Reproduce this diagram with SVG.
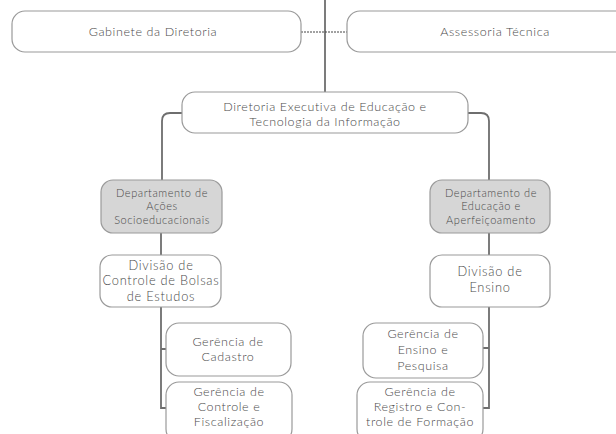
<svg xmlns="http://www.w3.org/2000/svg" width="616" height="434" viewBox="0 0 616 434">
<style>
.box{fill:#ffffff;stroke:#9a9a9a;stroke-width:1.2}
.dept{fill:#d6d6d6;stroke:#9a9a9a;stroke-width:1.2}
.ln{fill:none;stroke:#6e6e6e;stroke-width:1.8}
.dash{fill:none;stroke:#444;stroke-width:1;stroke-dasharray:2 1}
text{font-family:Lato,"Open Sans","DejaVu Sans",sans-serif;font-weight:300;fill:#4a4a4a;text-anchor:middle}
.t13{font-size:12.5px;letter-spacing:0.6px}
.t11{font-size:11px;letter-spacing:0.55px}
.t135{font-size:12.8px;letter-spacing:0.75px}
</style>
<rect width="616" height="434" fill="#ffffff"/>
<g id="connectors">
<line class="ln" x1="325" y1="0" x2="325" y2="92"/>
<line class="dash" x1="301" y1="32" x2="347" y2="32"/>
<path class="ln" d="M182 113 H170 Q162 113 162 121 V180"/>
<path class="ln" d="M468 113 H481 Q489 113 489 121 V180"/>
<line class="ln" x1="161" y1="233" x2="161" y2="255"/>
<line class="ln" x1="489" y1="233" x2="489" y2="255"/>
<path class="ln" d="M161 307 V408 H166 M161 349 H166"/>
<path class="ln" d="M489 307 V408 H483 M489 348 H483"/>
</g>
<g id="gabinete">
<rect class="box" x="12" y="11" width="289" height="41" rx="13"/>
<text class="t13" x="153" y="36">Gabinete da Diretoria</text>
</g>
<g id="assessoria">
<rect class="box" x="347" y="11" width="290" height="41" rx="13"/>
<text class="t13" x="495" y="36">Assessoria Técnica</text>
</g>
<g id="diretoria">
<rect class="box" x="182" y="92" width="286" height="41" rx="13"/>
<text class="t13" x="325" y="110.5">Diretoria Executiva de Educação e</text>
<text class="t13" x="325" y="126">Tecnologia da Informação</text>
</g>
<g id="dep-acoes">
<rect class="dept" x="101" y="180" width="121" height="53" rx="12"/>
<text class="t11" x="162" y="196.5">Departamento de</text>
<text class="t11" x="162" y="210">Ações</text>
<text class="t11" x="162" y="224">Socioeducacionais</text>
</g>
<g id="dep-educacao">
<rect class="dept" x="430" y="180" width="120" height="53" rx="12"/>
<text class="t11" x="491" y="196.5">Departamento de</text>
<text class="t11" x="491" y="210">Educação e</text>
<text class="t11" x="491" y="224">Aperfeiçoamento</text>
</g>
<g id="div-bolsas">
<rect class="box" x="100" y="255" width="121" height="52" rx="12"/>
<text class="t135" x="161" y="269.5">Divisão de</text>
<text class="t135" x="161" y="285">Controle de Bolsas</text>
<text class="t135" x="161" y="300.5">de Estudos</text>
</g>
<g id="div-ensino">
<rect class="box" x="430" y="255" width="120" height="52" rx="12"/>
<text class="t135" x="490" y="276">Divisão de</text>
<text class="t135" x="490" y="292">Ensino</text>
</g>
<g id="ger-cadastro">
<rect class="box" x="166" y="323" width="125" height="53" rx="13"/>
<text class="t13" x="228" y="346">Gerência de</text>
<text class="t13" x="228" y="361">Cadastro</text>
</g>
<g id="ger-controle">
<rect class="box" x="166" y="382" width="126" height="60" rx="13"/>
<text class="t13" x="229" y="396">Gerência de</text>
<text class="t13" x="229" y="411">Controle e</text>
<text class="t13" x="229" y="426">Fiscalização</text>
</g>
<g id="ger-ensino">
<rect class="box" x="363" y="323" width="120" height="55" rx="13"/>
<text class="t13" x="423" y="338">Gerência de</text>
<text class="t13" x="423" y="354">Ensino e</text>
<text class="t13" x="423" y="370">Pesquisa</text>
</g>
<g id="ger-registro">
<rect class="box" x="357" y="382" width="126" height="60" rx="13"/>
<text class="t13" x="420" y="396">Gerência de</text>
<text class="t13" x="420" y="411">Registro e Con-</text>
<text class="t13" x="420" y="426">trole de Formação</text>
</g>
</svg>
